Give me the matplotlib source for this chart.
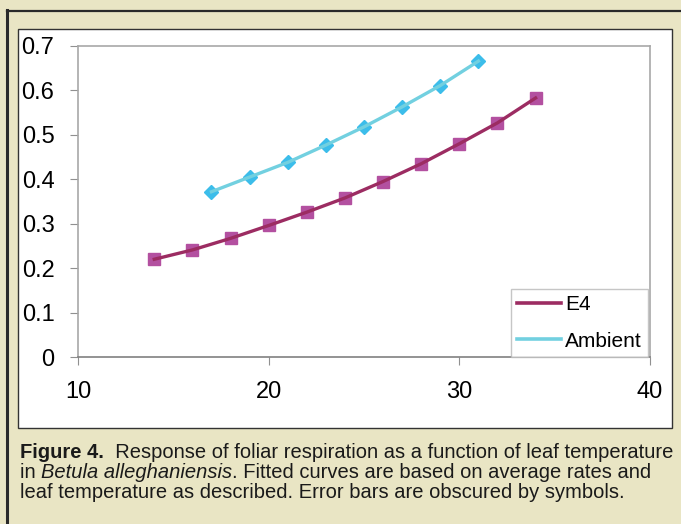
import matplotlib
matplotlib.use('Agg')

import matplotlib.pyplot as plt
from matplotlib.patches import Rectangle
from matplotlib.lines import Line2D

# ------------------ DATA ------------------

e4_temp = [14, 16, 18, 20, 22, 24, 26, 28, 30, 32, 34]
e4_resp = [0.220, 0.241, 0.267, 0.296, 0.326, 0.358, 0.395, 0.435, 0.480, 0.527, 0.583]

amb_temp = [17, 19, 21, 23, 25, 27, 29, 31]
amb_resp = [0.372, 0.405, 0.438, 0.477, 0.518, 0.563, 0.611, 0.666]

x_ticks = [10, 20, 30, 40]
y_ticks = [0, 0.1, 0.2, 0.3, 0.4, 0.5, 0.6, 0.7]
y_labels = ['0', '0.1', '0.2', '0.3', '0.4', '0.5', '0.6', '0.7']

series_names = ['E4', 'Ambient']

caption = [
    [("Figure 4.", 'bold', 'normal'),
     ("  Response of foliar respiration as a function of leaf temperature", 'normal', 'normal')],
    [("in ", 'normal', 'normal'), ("Betula alleghaniensis", 'normal', 'italic'),
     (". Fitted curves are based on average rates and", 'normal', 'normal')],
    [("leaf temperature as described. Error bars are obscured by symbols.", 'normal', 'normal')],
]

# ------------------ FIGURE ------------------

W, H = 681, 524
BEIGE = '#E9E5C4'
E4_LINE, E4_MARK = '#9C2C62', '#B350A0'
AMB_LINE, AMB_MARK = '#72D0E0', '#3CBDEA'

plt.rcParams['font.family'] = ['Liberation Sans', 'DejaVu Sans']

fig = plt.figure(figsize=(W / 100, H / 100), dpi=100)
fig.patch.set_facecolor(BEIGE)


def px_rect(x0, y0, x1, y1, **kw):
    # pixel box (top-left origin) -> figure rectangle
    return Rectangle((x0 / W, 1 - y1 / H), (x1 - x0) / W, (y1 - y0) / H,
                     transform=fig.transFigure, **kw)


# outer frame lines (top and left)
fig.add_artist(Line2D([6.5 / W, 1], [1 - 10.5 / H] * 2, transform=fig.transFigure,
                      color='#2a2a2a', lw=1.6))
fig.add_artist(Line2D([7 / W] * 2, [0, 1 - 10 / H], transform=fig.transFigure,
                      color='#2a2a2a', lw=2.2))
# white chart box, kept behind the axes
fig.add_artist(px_rect(18, 29, 672, 428, facecolor='white', edgecolor='#333333',
                       lw=1.0, zorder=-1))

# plot area
ax = fig.add_axes([78 / W, 1 - 357 / H, (650 - 78) / W, (357 - 46) / H])
ax.set_facecolor('white')

ax.plot(e4_temp, e4_resp, ls='none', marker='s', ms=8, color=E4_MARK, zorder=3)
ax.plot(e4_temp, e4_resp, color=E4_LINE, lw=2.4, zorder=4)
ax.plot(amb_temp, amb_resp, ls='none', marker='D', ms=6.8, color=AMB_MARK, zorder=3)
ax.plot(amb_temp, amb_resp, color=AMB_LINE, lw=2.4, zorder=4)

ax.set_xlim(10, 40)
ax.set_ylim(0, 0.7)
ax.set_xticks(x_ticks)
ax.set_yticks(y_ticks)
ax.set_yticklabels(y_labels)
ax.tick_params(axis='both', direction='out', length=6, width=0.8, color='#909090',
               labelsize=17, labelcolor='black')
ax.tick_params(axis='y', pad=11)
ax.tick_params(axis='x', pad=11)

for side in ['top', 'right', 'left']:
    ax.spines[side].set_color('#A8A8A8')
    ax.spines[side].set_linewidth(1.2)
ax.spines['bottom'].set_color('#808080')
ax.spines['bottom'].set_linewidth(1.2)

handles = [Line2D([], [], color=E4_LINE, lw=2.6), Line2D([], [], color=AMB_LINE, lw=2.6)]
leg = ax.legend(handles, series_names, loc='lower right', bbox_to_anchor=(0.997, 0.0),
                fontsize=15, frameon=True, fancybox=False, borderaxespad=0,
                handlelength=2.1, handletextpad=0.2, labelspacing=0.85,
                borderpad=0.3)
leg.get_frame().set_edgecolor('#B8B8B8')
leg.get_frame().set_linewidth(1.0)

# ------------------ CAPTION ------------------

fig.canvas.draw()
renderer = fig.canvas.get_renderer()
baselines = [458, 478, 498]
for parts, yb in zip(caption, baselines):
    x = 20
    for txt, weight, style in parts:
        t = fig.text(x / W, 1 - yb / H, txt, fontsize=14.5, fontweight=weight,
                     fontstyle=style, color='#1a1a1a',
                     va='baseline', ha='left')
        bb = t.get_window_extent(renderer)
        x += bb.width

plt.savefig('out.png', dpi=100, facecolor=BEIGE)
plt.close()
